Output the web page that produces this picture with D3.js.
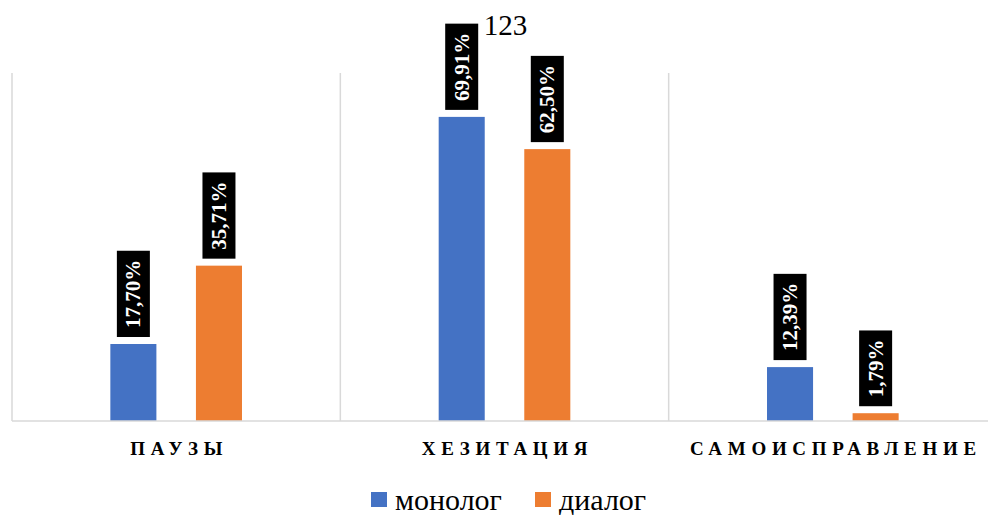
<!DOCTYPE html>
<html><head><meta charset="utf-8">
<script src="https://cdn.jsdelivr.net/npm/d3@7/dist/d3.min.js"></script>
<style>body{margin:0;background:#fff}svg{display:block}svg text{font-family:"Liberation Serif","Times New Roman",Tinos,"DejaVu Serif",serif}</style>
</head><body>
<svg id="c" width="988" height="515"></svg>
<script>
const title = "123";
const categories = ["ПАУЗЫ", "ХЕЗИТАЦИЯ", "САМОИСПРАВЛЕНИЕ"];
const seriesNames = ["монолог", "диалог"];
const monolog = [17.70, 69.91, 12.39];
const dialog = [35.71, 62.50, 1.79];
const colors = ["#4472C4", "#ED7D31"];
const yMax = 80;

(function draw() {
const svg = d3.select("#c");
const pL = 12, pR = 997, pT = 73, pB = 421;

const x = d3.scaleBand().domain(categories).range([pL, pR]).padding(0);
const xi = d3.scaleBand().domain(seriesNames).range([0, x.bandwidth()]).paddingInner(0.462).paddingOuter(1.149);
const y = d3.scaleLinear().domain([0, yMax]).range([pB, pT]);

const seps = categories.map(c => x(c)).concat([pR]);
svg.append("g").selectAll("line").data(seps).join("line")
  .attr("x1", d => d).attr("x2", d => d).attr("y1", pT).attr("y2", pB)
  .attr("stroke", "#d9d9d9").attr("stroke-width", 1.5);

const data = [];
categories.forEach((c, i) => {
  data.push({c, s: seriesNames[0], v: monolog[i], col: colors[0]});
  data.push({c, s: seriesNames[1], v: dialog[i], col: colors[1]});
});

svg.append("g").selectAll("rect").data(data).join("rect")
  .attr("x", d => x(d.c) + xi(d.s))
  .attr("y", d => y(d.v))
  .attr("width", xi.bandwidth())
  .attr("height", d => pB - y(d.v))
  .attr("fill", d => d.col);

svg.append("line").attr("x1", pL).attr("x2", pR).attr("y1", pB).attr("y2", pB)
  .attr("stroke", "#d9d9d9").attr("stroke-width", 1.5);

const fmt = v => v.toFixed(2).replace(".", ",") + "%";
const lg = svg.append("g");
data.forEach(d => {
  const cx = x(d.c) + xi(d.s) + xi.bandwidth() / 2;
  const g = lg.append("g");
  const t = g.append("text").text(fmt(d.v))
    .attr("font-weight", "bold").attr("font-size", 21)
    .attr("fill", "#fff").attr("text-anchor", "middle").attr("dominant-baseline", "central");
  const len = t.node().getComputedTextLength();
  const h = len + 18, w = 33;
  const by = y(d.v) - 7 - h / 2;
  g.insert("rect", "text").attr("x", -h / 2).attr("y", -w / 2).attr("width", h).attr("height", w).attr("fill", "#000");
  g.attr("transform", `translate(${cx},${by}) rotate(-90)`);
});

svg.append("g").selectAll("text").data(categories).join("text")
  .attr("x", d => x(d) + x.bandwidth() / 2 + 3)
  .attr("y", 455)
  .attr("text-anchor", "middle")
  .attr("font-weight", "bold").attr("font-size", 19)
  .attr("letter-spacing", 5.7).attr("fill", "#000")
  .text(d => d);

svg.append("text").attr("x", 505.5).attr("y", 35).attr("text-anchor", "middle")
  .attr("font-size", 29).attr("fill", "#000").text(title);

const legX = [371, 535];
const leg = svg.append("g");
seriesNames.forEach((s, i) => {
  leg.append("rect").attr("x", legX[i]).attr("y", 492).attr("width", 16).attr("height", 15).attr("fill", colors[i]);
  leg.append("text").attr("x", legX[i] + 24).attr("y", 510)
    .attr("font-size", 30).attr("fill", "#000").text(s);
});
})();
</script>
</body></html>
